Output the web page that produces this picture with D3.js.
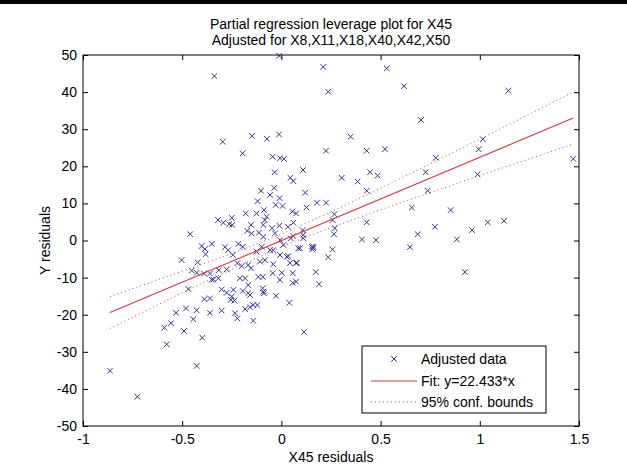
<!DOCTYPE html>
<html>
<head>
<meta charset="utf-8">
<script src="https://cdn.jsdelivr.net/npm/d3@7"></script>
<style>
    body { margin: 0; background: #fff; }
    #chart text { font-family: 'Liberation Sans', Arial, sans-serif; fill: #000; }
</style>
</head>
<body>
<div id="chart"></div>
<script>
const titleLines = ['Partial regression leverage plot for X45', 'Adjusted for X8,X11,X18,X40,X42,X50']
const xLabel = 'X45 residuals'
const yLabel = 'Y residuals'
const xTicks = [-1, -0.5, 0, 0.5, 1, 1.5]
const yTicks = [-50, -40, -30, -20, -10, 0, 10, 20, 30, 40, 50]
const legendLabels = ['Adjusted data', 'Fit: y=22.433*x', '95% conf. bounds']

// [x residual, y residual]
const adjustedData = [
    [-0.46, 1.7], [-0.338, 44.3], [-0.012, 49.8], [-0.296, 26.6], [-0.195, 23.5], [-0.148, 28.2], [-0.073, 27.4],
    [-0.012, 28.6], [-0.044, 22.6], [-0.007, 22.2], [0.013, 22], [0.109, 19], [-0.034, 18.4], [0.045, 16.9],
    [0.06, 16], [0.12, 12.9], [-0.103, 13.4], [-0.057, 12.3], [-0.036, 14.2], [-0.009, 11.4], [-0.12, 10.6],
    [0.179, 10.2], [0.127, 8.9], [-0.029, 9.6], [0.006, 9.3], [-0.088, 8.2], [-0.125, 7.3], [-0.18, 7.3],
    [0.055, 7.8], [0.074, 7.3], [-0.32, 5.5], [-0.293, 4.8], [-0.25, 6.1], [-0.263, 4.4], [-0.248, 4.2],
    [-0.074, 6.4], [-0.084, 5.5], [-0.091, 4.2], [-0.153, 4.2], [-0.01, 4], [-0.047, 3.3], [0.033, 3.7],
    [0.06, 4.8], [-0.172, 2.6], [-0.15, 1.9], [-0.113, 2.1], [-0.091, 1.0], [-0.032, 1.9], [0.11, 1.5],
    [0.107, 2.8],
    [0.211, 46.8], [0.531, 46.4], [0.236, 40.1], [0.618, 41.6], [1.144, 40.4], [0.704, 32.5], [0.349, 28],
    [0.225, 24.2], [0.43, 24.2], [0.522, 24.6], [1.015, 27.3], [0.994, 24.6], [0.778, 22.3], [1.471, 22],
    [0.304, 16.9], [0.447, 18.4], [0.485, 17.5], [0.384, 15.9], [0.727, 18.4], [0.989, 17.8], [0.43, 13.4],
    [0.737, 13.4], [0.225, 10.2], [0.657, 8.9], [0.853, 8.2], [0.258, 5.5], [0.27, 3.3], [0.43, 4.9],
    [0.774, 3.7], [1.04, 4.9], [1.122, 5.3], [0.961, 2.8], [0.265, 1.7], [0.687, 1.7], [0.406, 0.3],
    [0.477, 0.1], [0.884, 0.3], [0.161, -1.7], [0.257, -2.4], [0.648, -1.8],
    [0.161, -2.1], [0.155, -2.4], [0.236, -4.5], [0.11, 0.6], [0.173, -8.5], [0.19, -11.8], [0.925, -8.5],
    [0.114, -24.7],
    [-0.402, -1.5], [-0.385, -2.3], [-0.351, -0.9], [-0.382, -3.7], [-0.503, -5.3], [-0.422, -5.9],
    [-0.452, -8.1], [-0.427, -8.7], [-0.39, -8.9], [-0.469, -13.1], [-0.343, -10.5], [-0.531, -19.5],
    [-0.481, -18.3], [-0.427, -18.8], [-0.444, -21.2], [-0.388, -15.8], [-0.36, -15.6], [-0.36, -19.5],
    [-0.301, -18.9], [-0.59, -23.5], [-0.556, -22.3], [-0.578, -28], [-0.491, -24.4], [-0.399, -26.2],
    [-0.427, -33.8], [-0.864, -35.1], [-0.726, -42.1], [-0.284, -1.8], [-0.268, -2.6], [-0.217, -0.9],
    [-0.195, -1.7], [-0.245, -3.9], [-0.316, -8], [-0.276, -7.8], [-0.301, -13.2], [-0.276, -14.1],
    [-0.25, -15.1], [-0.255, -16], [-0.237, -16.2], [-0.242, -13.3], [-0.234, -19.6], [-0.222, -21],
    [-0.222, -6.1], [-0.2, -6.9], [-0.167, -6.6], [-0.153, -7.5], [-0.209, -10.2], [-0.183, -10.2],
    [-0.167, -12], [-0.195, -13.6], [-0.167, -14.2], [-0.158, -14.7], [-0.183, -18.5], [-0.158, -18],
    [-0.142, -17.4], [-0.142, -21.6], [-0.121, -17.4], [-0.116, -9.8], [-0.094, -9.8], [-0.094, -12.9],
    [-0.091, -13.8], [-0.088, -14.2], [-0.108, -5.7], [-0.083, -5.3], [-0.125, -3], [-0.041, -6.4],
    [-0.044, -8.8], [0.002, -8.7], [-0.007, -10.6], [-0.027, -14.9], [0.04, -16.8], [0.057, -8.8],
    [0.057, -11.4], [0.074, -11.1], [0.074, -6.1], [0.035, -4.2], [0.043, -6.1], [0.06, 1.2], [0.094, -2.1],
    [0.153, -1.7], [-0.041, -2.6], [-0.007, 0.1], [0.047, 0.6],
    [-0.007, -3.9], [0.027, -4.4], [-0.36, -8.9], [-0.351, -10.6], [-0.318, -10.2],
    [-0.099, -1.7], [-0.057, -2.6], [0.01, -1.2], [0.267, 7.1], [0.085, -2.1], [0.077, -6]
]

// fit line and the 95% bounds
const fitX = [-0.864, 1.471]
const fitY = [-19.4, 33.0]
const boundX = [-0.864, -0.5, -0.25, 0, 0.25, 0.5, 1, 1.471]
const upperBound = [-15.1, -8.3, -3.5, 1.7, 7.7, 14.1, 27.3, 40.0]
const lowerBound = [-23.7, -14.1, -7.7, -1.7, 3.5, 8.3, 17.5, 26.0]

const widthD3 = 627
const heightD3 = 472
const margin = { top: 55, right: 48, bottom: 46, left: 83 }
const innerW = widthD3 - margin.left - margin.right
const innerH = heightD3 - margin.top - margin.bottom

const markerColor = '#33339c'
const fitColor = '#d63a46'

const svg = d3.select('#chart').append('svg')
    .attr('width', widthD3)
    .attr('height', heightD3)

// dark strip across the top of the screenshot
svg.append('rect')
    .attr('x', 0).attr('y', 0)
    .attr('width', widthD3).attr('height', 4)
    .attr('fill', '#000')

const xScale = d3.scaleLinear().domain([-1, 1.5]).range([margin.left, margin.left + innerW])
const yScale = d3.scaleLinear().domain([-50, 50]).range([margin.top + innerH, margin.top])

const fmt = (d) => String(d)

const plot = svg.append('g')

// axes: ticks point inward on all four sides
svg.append('g')
    .attr('transform', `translate(0, ${margin.top + innerH})`)
    .call(d3.axisBottom(xScale).tickValues(xTicks).tickFormat(fmt).tickSizeInner(-5).tickSizeOuter(0).tickPadding(8))
svg.append('g')
    .attr('transform', `translate(0, ${margin.top})`)
    .call(d3.axisTop(xScale).tickValues(xTicks).tickFormat('').tickSizeInner(-5).tickSizeOuter(0))
svg.append('g')
    .attr('transform', `translate(${margin.left}, 0)`)
    .call(d3.axisLeft(yScale).tickValues(yTicks).tickFormat(fmt).tickSizeInner(-5).tickSizeOuter(0).tickPadding(6))
svg.append('g')
    .attr('transform', `translate(${margin.left + innerW}, 0)`)
    .call(d3.axisRight(yScale).tickValues(yTicks).tickFormat('').tickSizeInner(-5).tickSizeOuter(0))

svg.selectAll('.tick line').attr('stroke', '#000')
svg.selectAll('.domain').remove()
svg.selectAll('.tick text').attr('font-size', 14).attr('font-family', "'Liberation Sans', Arial, sans-serif")

svg.append('rect')
    .attr('x', margin.left).attr('y', margin.top)
    .attr('width', innerW).attr('height', innerH)
    .attr('fill', 'none')
    .attr('stroke', '#000')
    .attr('stroke-width', 1)

// data markers
const cross = 'M-2.8,-2.8L2.8,2.8M-2.8,2.8L2.8,-2.8'
plot.selectAll('path.pt')
    .data(adjustedData)
    .enter()
    .append('path')
    .attr('class', 'pt')
    .attr('d', cross)
    .attr('transform', (d) => `translate(${xScale(d[0])}, ${yScale(d[1])})`)
    .attr('fill', 'none')
    .attr('stroke', markerColor)
    .attr('stroke-width', 1)

// fit and bounds
const line = d3.line().x((d) => xScale(d[0])).y((d) => yScale(d[1]))
plot.append('path')
    .attr('d', line(fitX.map((x, i) => [x, fitY[i]])))
    .attr('fill', 'none')
    .attr('stroke', fitColor)
    .attr('stroke-width', 1.1)

const bounds = [upperBound, lowerBound]
bounds.forEach(b => {
    plot.append('path')
        .attr('d', line(boundX.map((x, i) => [x, b[i]])))
        .attr('fill', 'none')
        .attr('stroke', fitColor)
        .attr('stroke-width', 1)
        .attr('stroke-dasharray', '1,3')
})

// titles and labels
svg.append('text')
    .attr('x', margin.left + innerW / 2).attr('y', 29)
    .attr('text-anchor', 'middle').attr('font-size', 14)
    .text(titleLines[0])
svg.append('text')
    .attr('x', margin.left + innerW / 2).attr('y', 45)
    .attr('text-anchor', 'middle').attr('font-size', 14)
    .text(titleLines[1])

svg.append('text')
    .attr('x', margin.left + innerW / 2).attr('y', 462)
    .attr('text-anchor', 'middle').attr('font-size', 14)
    .text(xLabel)

svg.append('text')
    .attr('transform', `translate(50, ${margin.top + innerH / 2}) rotate(-90)`)
    .attr('text-anchor', 'middle').attr('font-size', 14)
    .text(yLabel)

// legend
const legend = svg.append('g').attr('transform', 'translate(362, 346)')
legend.append('rect')
    .attr('width', 184).attr('height', 67)
    .attr('fill', '#fff').attr('stroke', '#000').attr('stroke-width', 1)

const rowY = [13, 35, 56]
legend.append('path')
    .attr('d', cross)
    .attr('transform', `translate(32, ${rowY[0]})`)
    .attr('fill', 'none').attr('stroke', markerColor)
legend.append('line')
    .attr('x1', 9).attr('x2', 55).attr('y1', rowY[1]).attr('y2', rowY[1])
    .attr('stroke', fitColor)
legend.append('line')
    .attr('x1', 9).attr('x2', 55).attr('y1', rowY[2]).attr('y2', rowY[2])
    .attr('stroke', fitColor).attr('stroke-dasharray', '1,3')

legend.selectAll('text.lab')
    .data(legendLabels)
    .enter()
    .append('text')
    .attr('class', 'lab')
    .attr('x', 59)
    .attr('y', (d, i) => rowY[i] + 5)
    .attr('font-size', 14)
    .text((d) => d)
</script>
</body>
</html>
